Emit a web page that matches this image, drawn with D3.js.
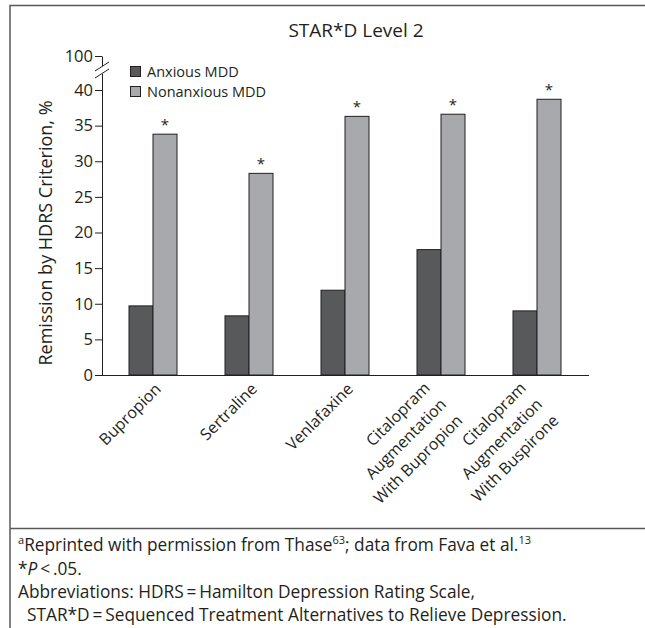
<!DOCTYPE html>
<html>
<head>
<meta charset="utf-8">
<script src="https://cdn.jsdelivr.net/npm/d3@7"></script>
<style>
  body { margin: 0; background: #fff; }
  svg { display: block; }
  text { font-family: "Open Sans", sans-serif; fill: #231f20; }
</style>
</head>
<body>
<svg id="chart" width="645" height="628"></svg>
<script>
// Remission rates at STAR*D Level 2, anxious vs nonanxious MDD
const categories = ["Bupropion", "Sertraline", "Venlafaxine",
  "Citalopram Augmentation With Bupropion", "Citalopram Augmentation With Buspirone"];
const categoryLines = [["Bupropion"], ["Sertraline"], ["Venlafaxine"],
  ["Citalopram", "Augmentation", "With Bupropion"],
  ["Citalopram", "Augmentation", "With Buspirone"]];
const seriesNames = ["Anxious MDD", "Nonanxious MDD"];
const anxious = [9.7, 8.3, 11.9, 17.6, 9.0];
const nonanxious = [33.8, 28.3, 36.3, 36.6, 38.7];
const significant = [true, true, true, true, true];
const yTicks = [0, 5, 10, 15, 20, 25, 30, 35, 40, 100];
const seriesColors = ["#58595b", "#a7a9ac"];

const svg = d3.select("#chart");
const ink = "#231f20";

// Outer frame and footnote separator
svg.append("path")
  .attr("d", "M10,628V5.5H645M10,528.5H645")
  .attr("fill", "none").attr("stroke", "#5a5a5a").attr("stroke-width", 1.5);

// Title
svg.append("text").attr("x", 356).attr("y", 37)
  .attr("text-anchor", "middle").style("font-size", "19px")
  .text("STAR*D Level 2");

// Scales: the value axis is broken between 40 and 100
const y = d3.scaleLinear().domain([0, 40, 100]).range([375, 90, 56]);
const x = d3.scaleBand().domain(categories).range([105, 585])
  .paddingInner(0.5).paddingOuter(0.25);
const xs = d3.scaleBand().domain(seriesNames).range([0, x.bandwidth()]);

// Y axis
const yAxis = svg.append("g").attr("transform", "translate(102,0)")
  .call(d3.axisLeft(y).tickValues(yTicks).tickSize(7).tickSizeOuter(0).tickPadding(2));
yAxis.selectAll("path, line").attr("stroke", ink);
yAxis.selectAll("text").style("font-size", "16.5px").attr("fill", ink)
  .style("font-family", '"Open Sans", sans-serif');

// Axis break marks
svg.append("rect").attr("x", 98).attr("y", 66).attr("width", 8).attr("height", 8).attr("fill", "#fff");
[0, 7].forEach(off => {
  svg.append("line")
    .attr("x1", 95).attr("y1", 71 + off).attr("x2", 109).attr("y2", 62 + off)
    .attr("stroke", ink).attr("stroke-width", 1);
});

// X axis baseline
svg.append("line").attr("x1", 102).attr("x2", 589)
  .attr("y1", y(0) + 0.5).attr("y2", y(0) + 0.5)
  .attr("stroke", ink).attr("stroke-width", 1);

// Bars
const rows = categories.map((c, i) => ({ c, i, vals: [anxious[i], nonanxious[i]] }));
const groups = svg.append("g").selectAll("g").data(rows).join("g")
  .attr("transform", d => `translate(${x(d.c)},0)`);
groups.selectAll("rect")
  .data(d => d.vals.map((v, k) => ({ key: seriesNames[k], v, k })))
  .join("rect")
  .attr("x", d => xs(d.key))
  .attr("y", d => y(d.v))
  .attr("width", xs.bandwidth())
  .attr("height", d => y(0) - y(d.v))
  .attr("fill", d => seriesColors[d.k])
  .attr("stroke", ink).attr("stroke-width", 1);

// Significance markers over the nonanxious bars
groups.filter(d => significant[d.i]).append("text")
  .attr("x", xs(seriesNames[1]) + xs.bandwidth() / 2)
  .attr("y", d => y(nonanxious[d.i]) - 4)
  .attr("text-anchor", "middle").style("font-size", "15px")
  .attr("fill", "#555")
  .text("*");

// Category labels, rotated
const lineH = 23;
const labels = svg.append("g").selectAll("text").data(rows).join("text")
  .attr("transform", d => {
    const cx = x(d.c) + x.bandwidth() / 2;
    const multi = categoryLines[d.i].length > 1;
    const ox = cx + 9 + (multi ? -19 : 0);
    const oy = 390 + (multi ? -1 : 0);
    return `translate(${ox},${oy}) rotate(-45)`;
  })
  .attr("text-anchor", "end").style("font-size", "16px");
labels.selectAll("tspan").data(d => categoryLines[d.i]).join("tspan")
  .attr("x", 0).attr("y", (d, j) => j * lineH).text(d => d);

// Y axis title
svg.append("text")
  .attr("transform", "translate(52,233) rotate(-90)")
  .attr("text-anchor", "middle").style("font-size", "18px")
  .text("Remission by HDRS Criterion, %");

// Legend
const legend = svg.append("g").attr("transform", "translate(130,66)");
seriesNames.forEach((name, k) => {
  legend.append("rect").attr("x", 0.5).attr("y", k * 20 + 0.5)
    .attr("width", 10).attr("height", 10)
    .attr("fill", seriesColors[k]).attr("stroke", ink).attr("stroke-width", 1);
  legend.append("text").attr("x", 17).attr("y", k * 20 + 11)
    .style("font-size", "14.5px").text(name);
});

// Footnotes
const fn = svg.append("g").style("font-size", "17.3px");
const l1 = fn.append("text").attr("x", 18).attr("y", 551);
l1.append("tspan").attr("dy", -7).style("font-size", "11px").text("a");
l1.append("tspan").attr("dy", 7).text("Reprinted with permission from Thase");
l1.append("tspan").attr("dy", -7).style("font-size", "11px").text("63");
l1.append("tspan").attr("dy", 7).text("; data from Fava et al.");
l1.append("tspan").attr("dy", -7).style("font-size", "11px").text("13");
const l2 = fn.append("text").attr("x", 18).attr("y", 575);
l2.append("tspan").text("*");
l2.append("tspan").style("font-style", "italic").text("P");
l2.append("tspan").text("\u2009<\u2009.05.");
fn.append("text").attr("x", 18).attr("y", 598)
  .text("Abbreviations: HDRS\u2009=\u2009Hamilton Depression Rating Scale,");
fn.append("text").attr("x", 27).attr("y", 621)
  .text("STAR*D\u2009=\u2009Sequenced Treatment Alternatives to Relieve Depression.");
</script>
</body>
</html>
